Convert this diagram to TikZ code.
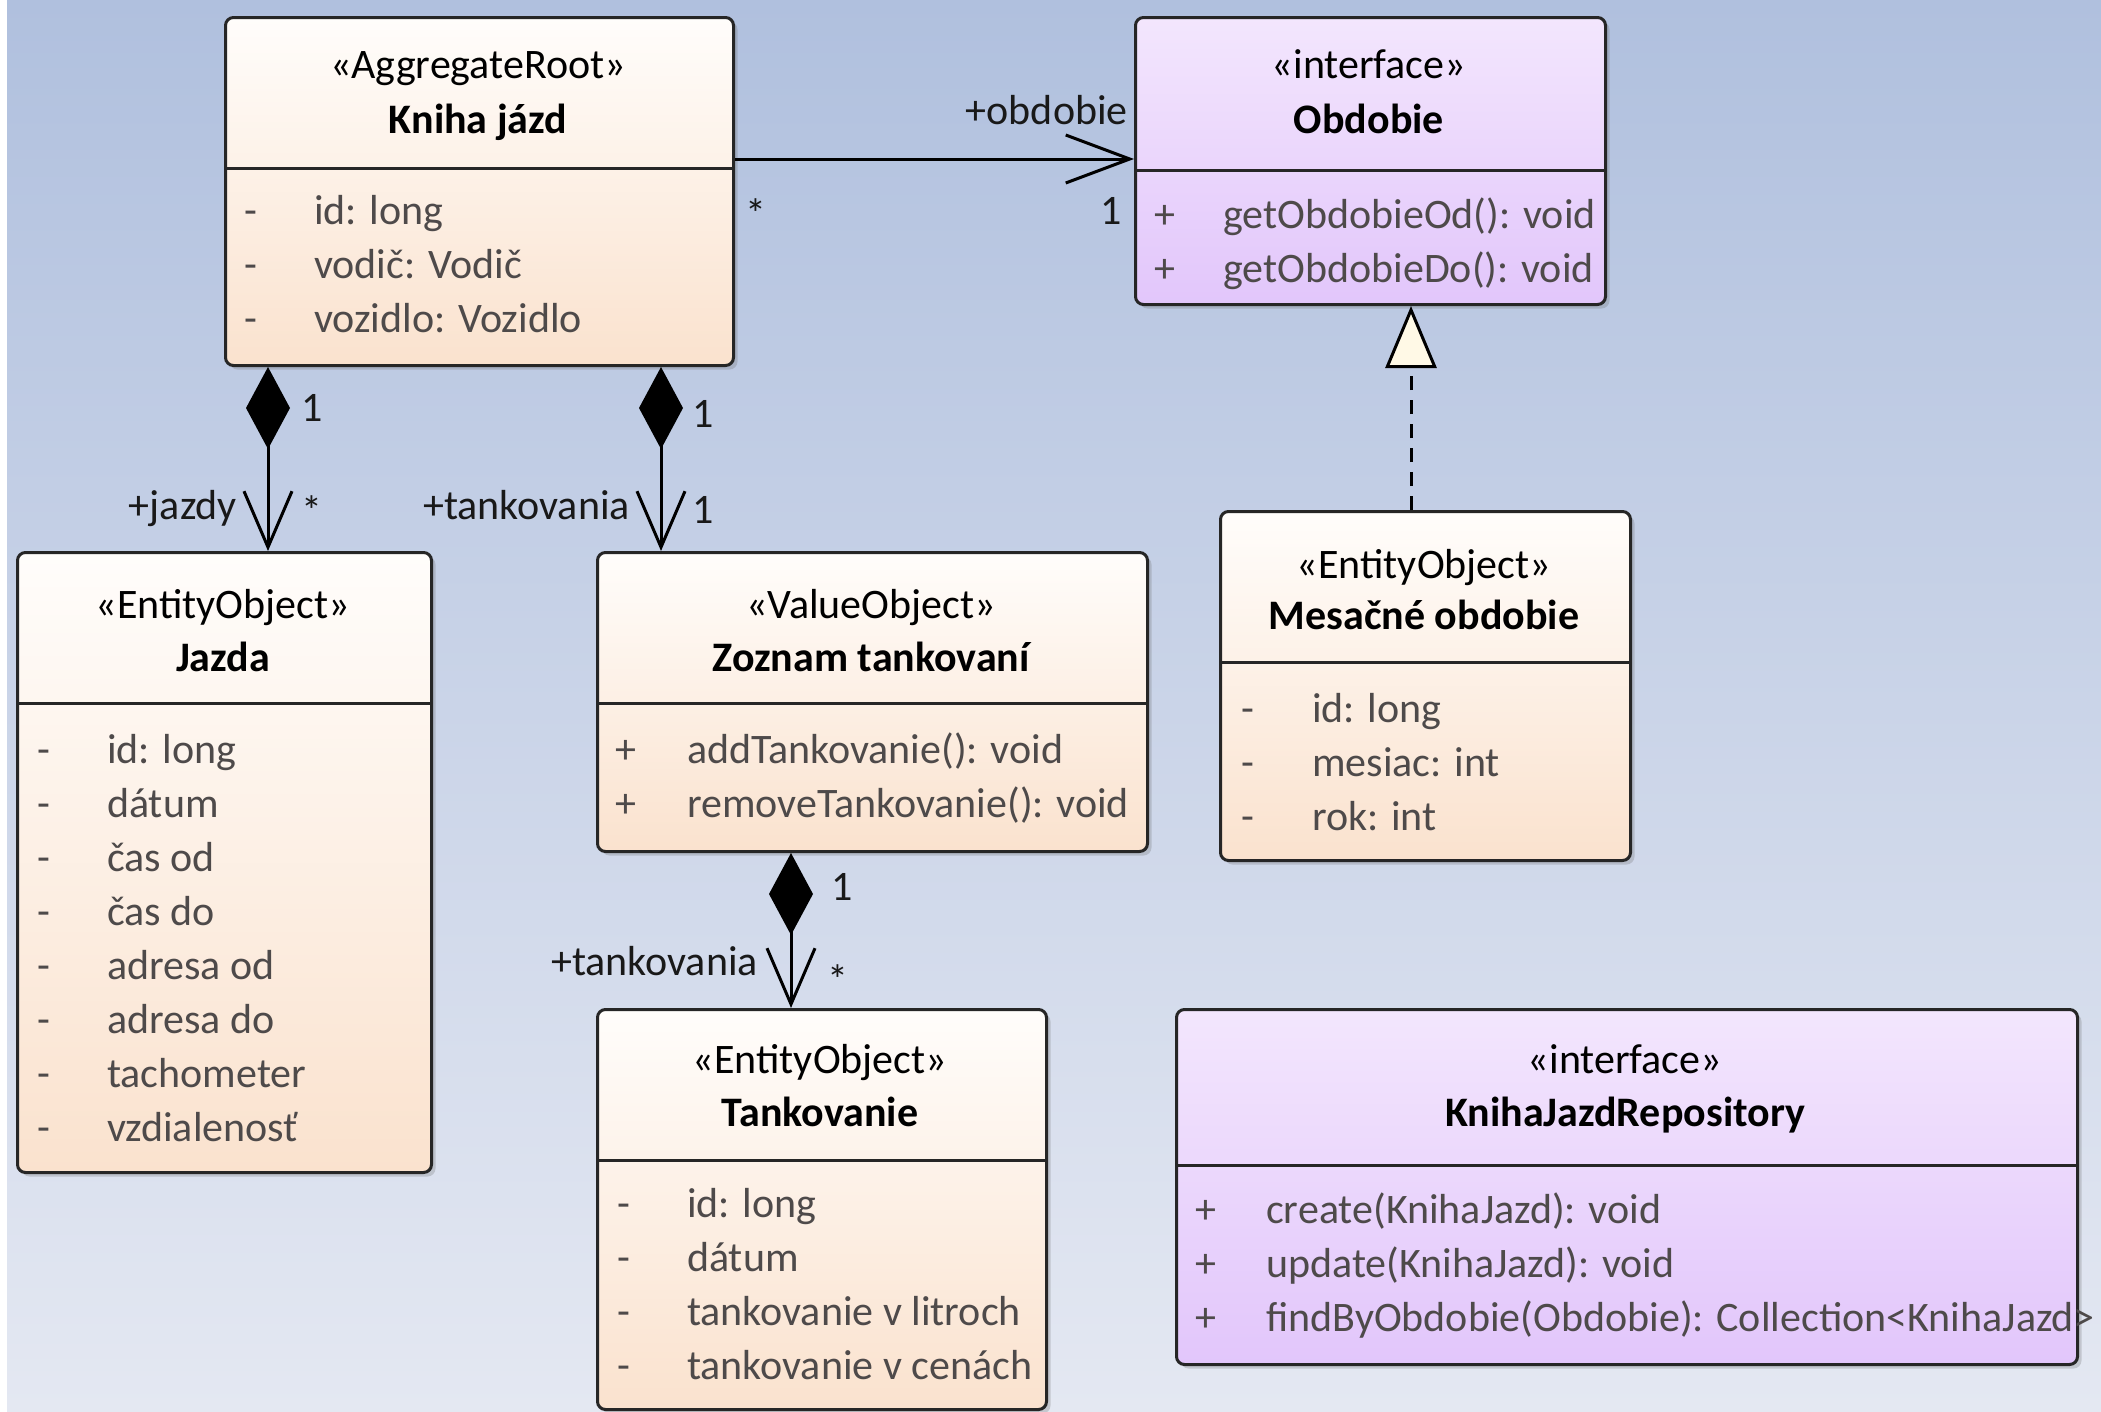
\documentclass[tikz,border=0pt]{standalone}
\usepackage{fontspec}
\setmainfont{Carlito}
\usetikzlibrary{arrows.meta,shadows}
\definecolor{bgtop}{RGB}{176,192,222}
\definecolor{bgbot}{RGB}{228,232,242}
\definecolor{enttop}{RGB}{255,253,251}
\definecolor{entbot}{RGB}{250,226,206}
\definecolor{ifctop}{RGB}{243,230,253}
\definecolor{ifcbot}{RGB}{226,198,251}
\definecolor{cream}{RGB}{255,249,230}
\definecolor{attrgray}{RGB}{78,74,74}
\newcommand{\umlfont}{\fontsize{42}{54}\selectfont}

\tikzset{
  classbox/.style={draw=black!85, line width=3pt, rounded corners=8pt, inner sep=0pt,
    anchor=north west, drop shadow={shadow xshift=4pt, shadow yshift=-4pt, opacity=0.25, fill=black!60}},
  entity/.style={classbox, top color=enttop, bottom color=entbot},
  iface/.style={classbox, top color=ifctop, bottom color=ifcbot},
  divider/.style={line width=3pt, black!85},
  stereo/.style={inner sep=0pt, text height=29pt, text depth=9pt, yshift=-4pt},
  cname/.style={stereo, font=\umlfont\bfseries},
  member/.style={stereo, anchor=west, text=attrgray},
  role/.style={stereo, text=black!90},
  assoc/.style={line width=3pt, -{Straight Barb[length=64pt, width=48pt]}},
  compo/.style={line width=3pt, {Diamond[length=82pt, width=44pt]}-{Straight Barb[length=56pt, width=48pt]}},
  realize/.style={line width=3pt, dash pattern=on 14pt off 10pt, -{Triangle[length=62pt, width=51pt, fill=cream]}}
}

\begin{document}
\begin{tikzpicture}[x=1pt, y=-1pt, font=\umlfont]
\useasboundingbox (0,0) rectangle (2101,1411);
\fill[white] (0,0) rectangle (2101,1411);
\shade[top color=bgtop, bottom color=bgbot] (7,0) rectangle (2101,1411);

% class boxes
\node[entity, minimum width=508, minimum height=348] (kniha) at (224,16) {};
\node[iface, minimum width=470, minimum height=287] (obdobie) at (1134,16) {};
\node[entity, minimum width=414, minimum height=620] (jazda) at (16,551) {};
\node[entity, minimum width=550, minimum height=299] (zoznam) at (596,551) {};
\node[entity, minimum width=410, minimum height=349] (mesacne) at (1219,510) {};
\node[entity, minimum width=449, minimum height=400] (tank) at (596,1008) {};
\node[iface, minimum width=901, minimum height=355] (repo) at (1175,1008) {};

\draw[divider] (224,168) -- (732,168);
\draw[divider] (1134,170) -- (1604,170);
\draw[divider] (16,703) -- (430,703);
\draw[divider] (596,703) -- (1146,703);
\draw[divider] (1219,662) -- (1629,662);
\draw[divider] (596,1160) -- (1045,1160);
\draw[divider] (1175,1165) -- (2076,1165);

% Kniha jazd
\node[stereo] (knihaS) at (478,64) {«AggregateRoot»};
\node[cname] (knihaN) at (478,119) {Kniha jázd};
\foreach \m [count=\i from 0] in {id: long, vodič: Vodič, vozidlo: Vozidlo}{
  \node[member] (knihaV\i) at (244,210+54*\i) {-};
  \node[member] (knihaM\i) at (314,210+54*\i) {\m};
}

% Obdobie
\node[stereo] (obdobieS) at (1369,64) {«interface»};
\node[cname] (obdobieN) at (1369,119) {Obdobie};
\foreach \m [count=\i from 0] in {getObdobieOd(): void, getObdobieDo(): void}{
  \node[member] (obdobieV\i) at (1154,214+54*\i) {+};
  \node[member] (obdobieM\i) at (1223,214+54*\i) {\m};
}

% Jazda
\node[stereo] (jazdaS) at (223,604) {«EntityObject»};
\node[cname] (jazdaN) at (223,657) {Jazda};
\foreach \m [count=\i from 0] in {id: long, dátum, čas od, čas do, adresa od, adresa do, tachometer, vzdialenosť}{
  \node[member] (jazdaV\i) at (37,749+54*\i) {-};
  \node[member] (jazdaM\i) at (107,749+54*\i) {\m};
}

% Zoznam tankovani
\node[stereo] (zoznamS) at (871,604) {«ValueObject»};
\node[cname] (zoznamN) at (871,657) {Zoznam tankovaní};
\foreach \m [count=\i from 0] in {addTankovanie(): void, removeTankovanie(): void}{
  \node[member] (zoznamV\i) at (615,749+54*\i) {+};
  \node[member] (zoznamM\i) at (687,749+54*\i) {\m};
}

% Mesacne obdobie
\node[stereo] (mesacneS) at (1424,564) {«EntityObject»};
\node[cname] (mesacneN) at (1424,615) {Mesačné obdobie};
\foreach \m [count=\i from 0] in {id: long, mesiac: int, rok: int}{
  \node[member] (mesacneV\i) at (1241,708+54*\i) {-};
  \node[member] (mesacneM\i) at (1312,708+54*\i) {\m};
}

% Tankovanie
\node[stereo] (tankS) at (820,1059) {«EntityObject»};
\node[cname] (tankN) at (820,1112) {Tankovanie};
\foreach \m [count=\i from 0] in {id: long, dátum, tankovanie v litroch, tankovanie v cenách}{
  \node[member] (tankV\i) at (617,1203+54*\i) {-};
  \node[member] (tankM\i) at (687,1203+54*\i) {\m};
}

% KnihaJazdRepository
\node[stereo] (repoS) at (1625,1059) {«interface»};
\node[cname] (repoN) at (1625,1112) {KnihaJazdRepository};
\foreach \m [count=\i from 0] in {create(KnihaJazd): void, update(KnihaJazd): void, findByObdobie(Obdobie): Collection<KnihaJazd>}{
  \node[member] (repoV\i) at (1195,1209+54*\i) {+};
  \node[member] (repoM\i) at (1266,1209+54*\i) {\m};
}

% connectors
\draw[assoc] (kniha.east |- 0,159) -- (obdobie.west |- 0,159);
\node[role, anchor=east] (obdR) at (1128,110) {+obdobie};
\node[role] (obdA) at (756,214) {*};
\node[role] (obdB) at (1111,210) {1};

\draw[compo] (kniha.south -| 268,0) -- (jazda.north -| 268,0);
\node[role] (jazA) at (312,407) {1};
\node[role, anchor=east] (jazR) at (237,505) {+jazdy};
\node[role] (jazB) at (312,511) {*};

\draw[compo] (kniha.south -| 661,0) -- (zoznam.north -| 661,0);
\node[role] (zozA) at (703,413) {1};
\node[role, anchor=east] (zozR) at (630,505) {+tankovania};
\node[role] (zozB) at (703,509) {1};

\draw[compo] (zoznam.south -| 791,0) -- (tank.north -| 791,0);
\node[role] (tanA) at (842,886) {1};
\node[role, anchor=east] (tanR) at (758,961) {+tankovania};
\node[role] (tanB) at (838,980) {*};

\draw[realize] (mesacne.north -| 1411,0) -- (obdobie.south -| 1411,0);
\end{tikzpicture}
\end{document}
